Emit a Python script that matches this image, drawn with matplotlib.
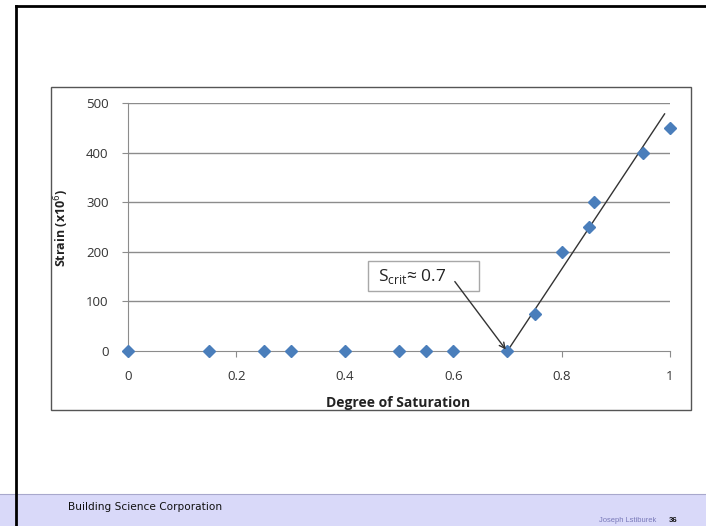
import matplotlib.pyplot as plt
from matplotlib.patches import Rectangle
from matplotlib.lines import Line2D

# data
saturation = [0, 0.15, 0.25, 0.3, 0.4, 0.5, 0.55, 0.6, 0.7, 0.75, 0.8, 0.85, 0.86, 0.95, 1.0]
strain = [0, 0, 0, 0, 0, 0, 0, 0, 0, 75, 200, 250, 300, 400, 450]
fit_x = [0.7, 0.99]
fit_y = [0, 478]
x_ticks = [0, 0.2, 0.4, 0.6, 0.8, 1]
x_tick_labels = ['0', '0.2', '0.4', '0.6', '0.8', '1']
y_ticks = [0, 100, 200, 300, 400, 500]

W, H = 706, 526
fig = plt.figure(figsize=(W / 100, H / 100), dpi=100)

def fx(px):
    return px / W

def fy(py):
    return 1 - py / H

# slide border (top and left) and footer band
fig.add_artist(Rectangle((0, 0), 1, fy(494), facecolor='#D9D9F9', edgecolor='none',
                         transform=fig.transFigure, zorder=0))
fig.add_artist(Line2D([0, 1], [fy(494), fy(494)], color='#A8A8CC', lw=0.8, transform=fig.transFigure))
fig.add_artist(Line2D([fx(16), 1], [fy(6), fy(6)], color='black', lw=2, transform=fig.transFigure))
fig.add_artist(Line2D([fx(16), fx(16)], [0, fy(6)], color='black', lw=2, transform=fig.transFigure))

# chart frame
fig.add_artist(Rectangle((fx(51), fy(410)), fx(691) - fx(51), fy(87) - fy(410),
                         facecolor='white', edgecolor='#555555', lw=1,
                         transform=fig.transFigure, zorder=1))

ax = fig.add_axes([fx(128), fy(351), fx(670) - fx(128), fy(103) - fy(351)])
ax.set_zorder(2)
ax.patch.set_alpha(0)

for y in y_ticks[1:]:
    ax.axhline(y, color='#8C8C8C', lw=1, zorder=1)

ax.plot(fit_x, fit_y, color='#333333', lw=1, zorder=2)
ax.plot(saturation, strain, 'D', color='#4A7EBB', markersize=6.5, clip_on=False, zorder=3)

ax.set_xlim(0, 1)
ax.set_ylim(0, 500)
ax.set_xticks(x_ticks)
ax.set_xticklabels(x_tick_labels)
ax.set_yticks(y_ticks)
for s in ['top', 'right']:
    ax.spines[s].set_visible(False)
for s in ['left', 'bottom']:
    ax.spines[s].set_color('#8C8C8C')
ax.tick_params(axis='x', colors='#8C8C8C', length=4, labelcolor='#333333', labelsize=9.5, pad=10)
ax.tick_params(axis='y', colors='#8C8C8C', length=4, labelcolor='#333333', labelsize=9.5, pad=10)
for lab in ax.get_xticklabels() + ax.get_yticklabels():
    lab.set_family('Open Sans')

fig.text(fx(398), fy(403), 'Degree of Saturation', ha='center', va='center',
         fontsize=10, fontweight='bold', family='Open Sans', color='#222222')
fig.text(fx(62), fy(228), r'Strain (x10$^{6}$)', ha='center', va='center', rotation=90,
         fontsize=9, fontweight='bold', family='Open Sans', color='#222222')

# annotation box, label and arrow (data coordinates)
ax.add_patch(Rectangle((0.4436, 120), 0.2034, 62, facecolor='white', edgecolor='#A8A8A8',
                       lw=1, zorder=4))
ax.text(0.461, 151, r'S$_{\mathregular{crit}}$≈ 0.7', fontsize=12.5, family='Open Sans',
        color='#222222', va='center', ha='left', zorder=5)
ax.annotate('', xy=(0.697, 3), xytext=(0.603, 140),
            arrowprops=dict(arrowstyle='->', color='#333333', lw=1, shrinkA=0, shrinkB=0),
            zorder=5)

# footer text
fig.text(fx(68), fy(507), 'Building Science Corporation', ha='left', va='center',
         fontsize=7.6, family='DejaVu Sans', color='#111111')
fig.text(fx(656), fy(520), 'Joseph Lstiburek', ha='right', va='center',
         fontsize=5.4, family='Liberation Sans', color='#7878B8')
fig.text(fx(669), fy(520), '36', ha='left', va='center',
         fontsize=5.6, fontweight='bold', family='Liberation Sans', color='#111111')

fig.savefig('out.png', dpi=100)
